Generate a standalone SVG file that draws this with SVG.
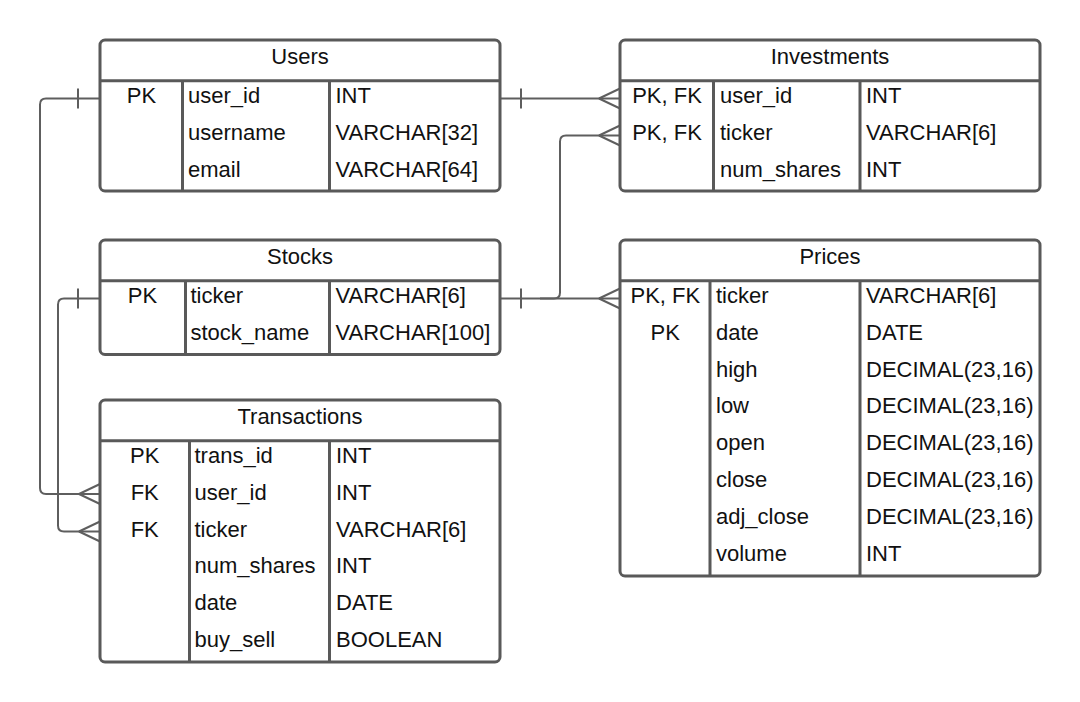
<svg xmlns="http://www.w3.org/2000/svg" xmlns:xlink="http://www.w3.org/1999/xlink" width="1080" height="702" viewBox="0 0 1080 702">
<style>
.box{fill:#ffffff;stroke:#595959;stroke-width:3}
.sep{stroke:#595959;stroke-width:3;fill:none}
.conn{stroke:#5e5e5e;stroke-width:2;fill:none}
text{font-family:"Liberation Sans",Arial,sans-serif;font-size:22px;fill:#111111}
.c{text-anchor:middle}
</style>
<defs>
<path id="crow" d="M-21,0 L0,-10 M-21,0 L0,10" class="conn"/>
<path id="tick" d="M0,-10 V10" class="conn"/>
</defs>
<rect width="1080" height="702" fill="#ffffff"/>

<g id="connectors">
<!-- Users.user_id -> Transactions.user_id -->
<path class="conn" d="M100,98.5 H46 Q40,98.5 40,104.5 V488 Q40,494 46,494 H100"/>
<use xlink:href="#tick" x="78" y="98.5"/>
<use xlink:href="#crow" x="100" y="494"/>
<!-- Stocks.ticker -> Transactions.ticker -->
<path class="conn" d="M100,298.5 H64 Q58,298.5 58,304.5 V525.5 Q58,531.5 64,531.5 H100"/>
<use xlink:href="#tick" x="78" y="298.5"/>
<use xlink:href="#crow" x="100" y="531.5"/>
<!-- Users.user_id -> Investments.user_id -->
<path class="conn" d="M500,98.5 H620"/>
<use xlink:href="#tick" x="521" y="98.5"/>
<use xlink:href="#crow" x="620" y="98.5"/>
<!-- Stocks.ticker -> Prices.ticker -->
<path class="conn" d="M500,298.5 H620"/>
<use xlink:href="#tick" x="521" y="298.5"/>
<use xlink:href="#crow" x="620" y="298.5"/>
<!-- Stocks.ticker -> Investments.ticker -->
<path class="conn" d="M540,298.5 H554 Q560,298.5 560,292.5 V141.5 Q560,135.5 566,135.5 H620"/>
<use xlink:href="#crow" x="620" y="135.5"/>
</g>

<g id="users">
<rect class="box" x="100" y="40" width="400" height="151" rx="5"/>
<path class="sep" d="M100,80.7 H500 M182.5,80.7 V191 M329.5,80.7 V191"/>
<text class="c" x="300" y="64.3">Users</text>
<text class="c" x="141.5" y="102.7">PK</text>
<text x="188" y="102.7">user_id</text>
<text x="335.5" y="102.7">INT</text>
<text x="188" y="139.6">username</text>
<text x="335.5" y="139.6">VARCHAR[32]</text>
<text x="188" y="176.5">email</text>
<text x="335.5" y="176.5">VARCHAR[64]</text>
</g>

<g id="investments">
<rect class="box" x="620" y="40" width="420" height="151" rx="5"/>
<path class="sep" d="M620,80.7 H1040 M713.5,80.7 V191 M860,80.7 V191"/>
<text class="c" x="830" y="64.3">Investments</text>
<text class="c" x="667" y="102.7">PK, FK</text>
<text x="720" y="102.7">user_id</text>
<text x="866" y="102.7">INT</text>
<text class="c" x="667" y="139.6">PK, FK</text>
<text x="720" y="139.6">ticker</text>
<text x="866" y="139.6">VARCHAR[6]</text>
<text x="720" y="176.5">num_shares</text>
<text x="866" y="176.5">INT</text>
</g>

<g id="stocks">
<rect class="box" x="100" y="240" width="400" height="114.5" rx="5"/>
<path class="sep" d="M100,280.7 H500 M185.5,280.7 V354.5 M329.5,280.7 V354.5"/>
<text class="c" x="300" y="264.3">Stocks</text>
<text class="c" x="142.5" y="302.7">PK</text>
<text x="190.5" y="302.7">ticker</text>
<text x="335.5" y="302.7">VARCHAR[6]</text>
<text x="190.5" y="339.6">stock_name</text>
<text x="335.5" y="339.6">VARCHAR[100]</text>
</g>

<g id="prices">
<rect class="box" x="620" y="240" width="420" height="336" rx="5"/>
<path class="sep" d="M620,280.7 H1040 M710,280.7 V576 M860,280.7 V576"/>
<text class="c" x="830" y="264.3">Prices</text>
<text class="c" x="665.3" y="302.7">PK, FK</text>
<text x="716" y="302.7">ticker</text>
<text x="866" y="302.7">VARCHAR[6]</text>
<text class="c" x="665.3" y="339.6">PK</text>
<text x="716" y="339.6">date</text>
<text x="866" y="339.6">DATE</text>
<text x="716" y="376.5">high</text>
<text x="866" y="376.5">DECIMAL(23,16)</text>
<text x="716" y="413.4">low</text>
<text x="866" y="413.4">DECIMAL(23,16)</text>
<text x="716" y="450.3">open</text>
<text x="866" y="450.3">DECIMAL(23,16)</text>
<text x="716" y="487.2">close</text>
<text x="866" y="487.2">DECIMAL(23,16)</text>
<text x="716" y="524.1">adj_close</text>
<text x="866" y="524.1">DECIMAL(23,16)</text>
<text x="716" y="561">volume</text>
<text x="866" y="561">INT</text>
</g>

<g id="transactions">
<rect class="box" x="100" y="400" width="400" height="262" rx="5"/>
<path class="sep" d="M100,440.7 H500 M189.5,440.7 V662 M329.5,440.7 V662"/>
<text class="c" x="300" y="424.3">Transactions</text>
<text class="c" x="144.7" y="462.7">PK</text>
<text x="194.5" y="462.7">trans_id</text>
<text x="336" y="462.7">INT</text>
<text class="c" x="144.7" y="499.6">FK</text>
<text x="194.5" y="499.6">user_id</text>
<text x="336" y="499.6">INT</text>
<text class="c" x="144.7" y="536.5">FK</text>
<text x="194.5" y="536.5">ticker</text>
<text x="336" y="536.5">VARCHAR[6]</text>
<text x="194.5" y="573.4">num_shares</text>
<text x="336" y="573.4">INT</text>
<text x="194.5" y="610.3">date</text>
<text x="336" y="610.3">DATE</text>
<text x="194.5" y="647.2">buy_sell</text>
<text x="336" y="647.2">BOOLEAN</text>
</g>
</svg>
